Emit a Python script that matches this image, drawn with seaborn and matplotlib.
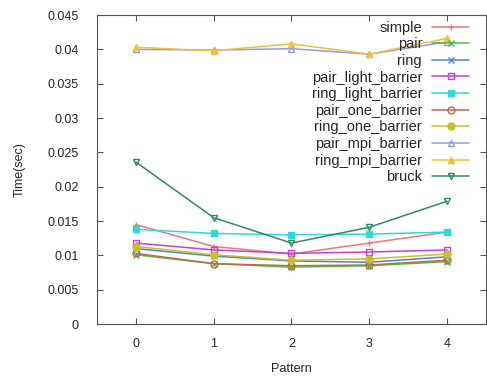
import seaborn as sns
import matplotlib.pyplot as plt
import pandas as pd
import numpy as np
from matplotlib.ticker import FuncFormatter

patterns = [0, 1, 2, 3, 4]

simple = [0.0145, 0.0113, 0.0102, 0.0118, 0.0134]
pair = [0.0101, 0.0088, 0.0083, 0.0085, 0.0091]
ring = [0.0110, 0.0099, 0.0092, 0.0090, 0.0098]
pair_light_barrier = [0.0118, 0.0108, 0.0103, 0.0105, 0.0108]
ring_light_barrier = [0.0138, 0.0132, 0.0130, 0.0131, 0.0134]
pair_one_barrier = [0.0103, 0.0088, 0.0085, 0.0086, 0.0093]
ring_one_barrier = [0.0113, 0.0101, 0.0093, 0.0095, 0.0102]
pair_mpi_barrier = [0.0400, 0.0399, 0.0401, 0.0393, 0.0411]
ring_mpi_barrier = [0.0403, 0.0398, 0.0408, 0.0393, 0.0416]
bruck = [0.0236, 0.0155, 0.0118, 0.0141, 0.0179]

names = ['simple', 'pair', 'ring', 'pair_light_barrier', 'ring_light_barrier',
         'pair_one_barrier', 'ring_one_barrier', 'pair_mpi_barrier',
         'ring_mpi_barrier', 'bruck']
series = [simple, pair, ring, pair_light_barrier, ring_light_barrier,
          pair_one_barrier, ring_one_barrier, pair_mpi_barrier,
          ring_mpi_barrier, bruck]

colors = ['#f07878', '#48c048', '#4a86d0', '#c040e0', '#30d8d8',
          '#c06848', '#c8c028', '#8c9ce8', '#f0c038', '#2e8a68']
markers = ['+', 'x', 'x', 's', 's', 'o', 'o', '^', '^', 'v']
hollow = [False, False, False, True, False, True, False, True, False, True]

df = pd.DataFrame({'Pattern': np.tile(patterns, len(names)),
                   'Time': np.concatenate(series),
                   'name': np.repeat(names, len(patterns))})

sns.set_style('ticks')
plt.rcParams['font.family'] = ['Liberation Sans', 'DejaVu Sans']

fig = plt.figure(figsize=(4.87, 3.76), dpi=100)
ax = fig.add_axes([0.199, 0.138, 0.799, 0.822])

for name, c, m, h in zip(names, colors, markers, hollow):
    sub = df[df['name'] == name]
    sns.lineplot(data=sub, x='Pattern', y='Time', ax=ax, color=c, marker=m,
                 markersize=5, linewidth=1.1, label=name,
                 markerfacecolor='none' if h else c, markeredgecolor=c,
                 markeredgewidth=1.0)

ax.set_xlim(-0.5, 4.5)
ax.set_ylim(0, 0.045)
ax.set_xticks(patterns)
ax.set_yticks(np.arange(0, 0.0451, 0.005))
ax.yaxis.set_major_formatter(FuncFormatter(lambda v, p: '%g' % round(v, 4)))
ax.tick_params(direction='in', top=True, right=True, length=4, labelsize=9,
               color='#555555')
ax.tick_params(axis='y', pad=13)
ax.tick_params(axis='x', pad=10)
for s in ax.spines.values():
    s.set_color('#555555')
ax.set_xlabel('Pattern', fontsize=9, labelpad=9)
ax.set_ylabel('Time(sec)', fontsize=9, labelpad=16)

ax.legend(loc='upper right', bbox_to_anchor=(0.98, 1.01), frameon=False,
          markerfirst=False, fontsize=10.5, labelspacing=0.18,
          handlelength=2.6, handletextpad=0.65, borderaxespad=0.2)

fig.savefig('out.png', dpi=100)
